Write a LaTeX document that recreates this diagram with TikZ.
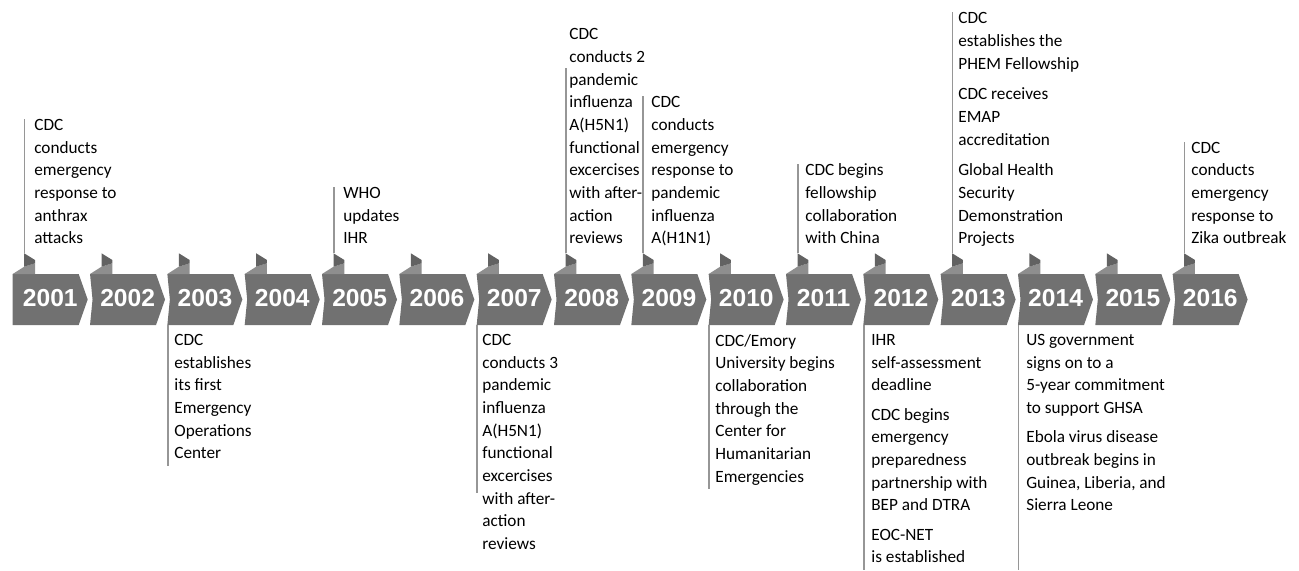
\documentclass[tikz,border=0pt]{standalone}
\usepackage{fontspec}
\setmainfont{Carlito}
\newfontfamily\yearfont{Liberation Sans}
\usetikzlibrary{positioning}
\definecolor{boxGray}{RGB}{113,113,113}
\definecolor{tabDark}{RGB}{98,98,98}
\definecolor{tabLight}{RGB}{142,142,142}
\definecolor{lineGray}{RGB}{150,150,150}
\tikzset{
  year/.style={font=\yearfont\bfseries\fontsize{14}{16}\selectfont, text=white, inner sep=0},
  event/.style={font=\fontsize{9.8}{12.9}\selectfont, align=left, inner sep=0,
    execute at begin node=\strut, execute at end node=\strut},
  eventup/.style={event, anchor=south west},
  eventdown/.style={event, anchor=north west},
  callout/.style={draw=lineGray, line width=0.9pt},
}

\begin{document}
\begin{tikzpicture}[x=0.02cm, y=-0.02cm]
\useasboundingbox (0,0) rectangle (1299,571);
% year chevrons with their tabs
\foreach \yr [count=\i from 0] in {2001,...,2016} {
  \pgfmathsetmacro\L{12.7+77.33*\i}
  \pgfmathsetmacro\nd{\i==0 ? 0 : 2.5}
  \fill[boxGray] (\L,274) -- (\L+66,274) -- (\L+75,299.5) -- (\L+66,325) -- (\L,325) -- (\L+\nd,299.5) -- cycle;
  \fill[tabLight] (\L,274) -- (\L+11.5,266.7) -- (\L+22.3,263.3) -- (\L+22.3,274) -- cycle;
  \fill[tabDark] (\L+11.5,253.3) -- (\L+22.3,260) -- (\L+22.3,263.3) -- (\L+11.5,266.7) -- cycle;
  \node[year] (y\yr) at (\L+37.6,298.5) {\yr};
  \coordinate (top\yr) at (\L+11.8,253.3);
  \coordinate (bot\yr) at (\L+0.4,325);
}

% events above the timeline
\node[eventup] (e2001) at (34,251) {CDC\\conducts\\emergency\\response to\\anthrax\\attacks};
\node[eventup] (e2005) at (343,251) {WHO\\updates\\IHR};
\node[eventup] (e2008) at (569,251) {CDC\\conducts 2\\pandemic\\influenza\\A(H5N1)\\functional\\excercises\\with after-\\action\\reviews};
\node[eventup] (e2009) at (651,251) {CDC\\conducts\\emergency\\response to\\pandemic\\influenza\\A(H1N1)};
\node[eventup] (e2011) at (805,251) {CDC begins\\fellowship\\collaboration\\with China};
\node[eventup] (e2013) at (958,251) {CDC\\establishes the\\PHEM Fellowship\\[4.6pt]CDC receives\\EMAP\\accreditation\\[4.6pt]Global Health\\Security\\Demonstration\\Projects};
\node[eventup] (e2016) at (1191,251) {CDC\\conducts\\emergency\\response to\\Zika outbreak};

% events below the timeline
\node[eventdown] (e2003) at (174,334) {CDC\\establishes\\its first\\Emergency\\Operations\\Center};
\node[eventdown] (e2007) at (482,334) {CDC\\conducts 3\\pandemic\\influenza\\A(H5N1)\\functional\\excercises\\with after-\\action\\reviews};
\node[eventdown] (e2010) at (715,334) {CDC/Emory\\University begins\\collaboration\\through the\\Center for\\Humanitarian\\Emergencies};
\node[eventdown] (e2012) at (871,334) {IHR\\self-assessment\\deadline\\[3.8pt]CDC begins\\emergency\\preparedness\\partnership with\\BEP and DTRA\\[3.8pt]EOC-NET\\is established};
\node[eventdown] (e2014) at (1026,334) {US government\\signs on to a\\5-year commitment\\to support GHSA\\[3.8pt]Ebola virus disease\\outbreak begins in\\Guinea, Liberia, and\\Sierra Leone};

% call-out lines
\path (top2008) ++(0,-185.3) coordinate (end2008);
\path (bot2007) ++(0,168) coordinate (end2007);
\path (bot2014) ++(0,245) coordinate (end2014);
\draw[callout] (top2001) -- (top2001 |- e2001.north);
\draw[callout] (top2005) -- (top2005 |- e2005.north);
\draw[callout] (top2008) -- (end2008);
\draw[callout] (top2009) -- (top2009 |- e2009.north);
\draw[callout] (top2011) -- (top2011 |- e2011.north);
\draw[callout] (top2013) -- (top2013 |- e2013.north);
\draw[callout] (top2016) -- (top2016 |- e2016.north);
\draw[callout] (bot2003) -- (bot2003 |- e2003.south);
\draw[callout] (bot2007) -- (end2007);
\draw[callout] (bot2010) -- (bot2010 |- e2010.south);
\draw[callout] (bot2012) -- (bot2012 |- e2012.south);
\draw[callout] (bot2014) -- (end2014);
\end{tikzpicture}
\end{document}
